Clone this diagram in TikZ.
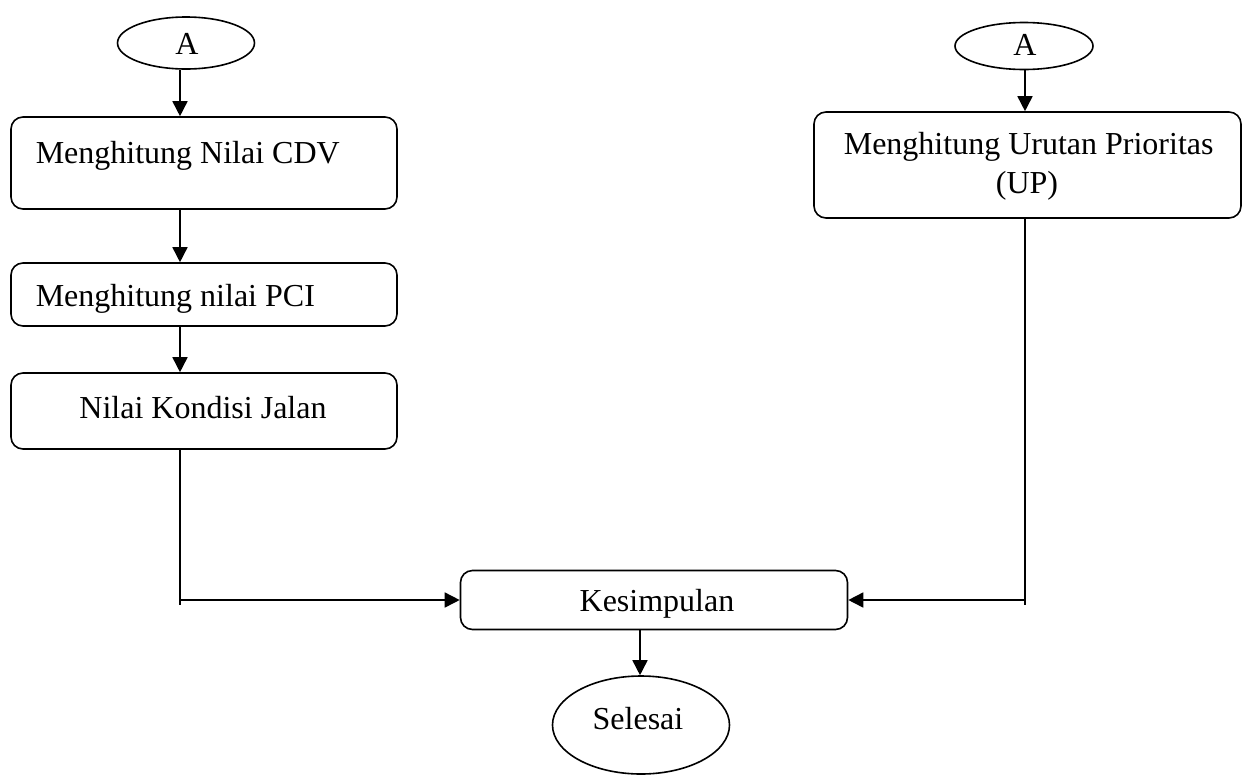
\documentclass[tikz,border=0pt]{standalone}
\usepackage{fontspec}
\setmainfont{Liberation Serif}
\usetikzlibrary{shapes.geometric,arrows.meta,calc}
\begin{document}
\begin{tikzpicture}[x=1pt,y=-1pt,line width=1.6pt,
  box/.style={draw,rectangle,rounded corners=12pt,inner sep=0pt},
  term/.style={draw,ellipse,inner sep=0pt},
  txt/.style={font=\fontsize{32}{38}\selectfont,inner sep=0pt},
  arr/.style={-{Triangle[length=15pt,width=15pt]}}]
\useasboundingbox (0,0) rectangle (1248,780);
% spines
\coordinate (lx) at (180,0);
\coordinate (rx) at (1025,0);
\coordinate (cx) at (640,0);
% left column
\node[term,minimum width=137pt,minimum height=52pt] (a1) at (186,43) {};
\node[txt,anchor=base] (ta1) at (187,54) {A};
\node[box,minimum width=386pt,minimum height=92pt] (b1) at (204,163) {};
\node[txt,anchor=base west] (t1) at (35,163) {Menghitung Nilai CDV};
\node[box,minimum width=386pt,minimum height=63pt] (b2) at (204,294.5) {};
\node[txt,anchor=base west] (t2) at (35,306) {Menghitung nilai PCI};
\node[box,minimum width=386pt,minimum height=76pt] (b3) at (204,411) {};
\node[txt,anchor=base] (t3) at (203,418) {Nilai Kondisi Jalan};
% right column
\node[term,minimum width=138pt,minimum height=47pt] (a2) at (1024,46) {};
\node[txt,anchor=base] (ta2) at (1025,55) {A};
\node[box,minimum width=427pt,minimum height=106pt] (rb) at (1027.5,165) {};
\node[txt,anchor=base west] (tr1) at (843,154) {Menghitung Urutan Prioritas};
\node[txt,anchor=base] (tr2) at (1027,193) {(UP)};
% bottom
\node[box,minimum width=387pt,minimum height=59pt] (k) at (654,600) {};
\node[txt,anchor=base] (tk) at (657,611) {Kesimpulan};
\node[term,minimum width=177pt,minimum height=98pt] (s) at (641,725) {};
\node[txt,anchor=base] (ts) at (638,729) {Selesai};
% connectors
\draw[arr] (lx |- a1.south) -- (lx |- b1.north);
\draw[arr] (lx |- b1.south) -- (lx |- b2.north);
\draw[arr] (lx |- b2.south) -- (lx |- b3.north);
\draw (lx |- b3.south) -- ([yshift=-5pt]lx |- k.west);
\draw[arr] (lx |- k.west) -- (k.west);
\draw[arr] (rx |- a2.south) -- (rx |- rb.north);
\draw (rx |- rb.south) -- ([yshift=-5pt]rx |- k.east);
\draw[arr] (rx |- k.east) -- (k.east);
\draw[arr] (cx |- k.south) -- (cx |- s.north);
\end{tikzpicture}
\end{document}
